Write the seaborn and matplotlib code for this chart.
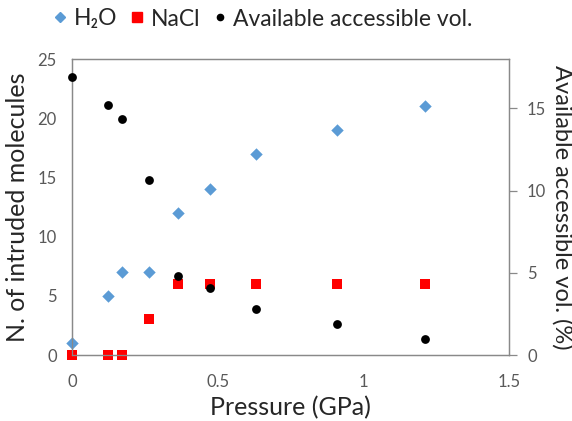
import matplotlib
matplotlib.use("Agg")
import matplotlib.pyplot as plt
import seaborn as sns
import pandas as pd
from matplotlib.lines import Line2D

pressure = [0.0, 0.125, 0.17, 0.265, 0.365, 0.475, 0.63, 0.91, 1.21]
h2o = [1, 5, 7, 7, 12, 14, 17, 19, 21]
nacl = [0, 0, 0, 3, 6, 6, 6, 6, 6]
acc_vol = [16.9, 15.2, 14.35, 10.65, 4.8, 4.05, 2.8, 1.9, 1.0]

df = pd.DataFrame({"p": pressure, "h2o": h2o, "nacl": nacl, "vol": acc_vol})

sns.set_theme(style="white")
plt.rcParams['font.family'] = ['Lato', 'DejaVu Sans']

fig = plt.figure(figsize=(5.72, 4.21), dpi=100)
ax = fig.add_axes([72/572, 1-355/421, (509-72)/572, (355-59)/421])
ax2 = ax.twinx()

blue = "#5B9BD5"
red = "#FF0000"
sns.scatterplot(data=df, x="p", y="h2o", ax=ax, marker="D", s=40, color=blue,
                edgecolor=blue, linewidth=0, zorder=3, clip_on=False)
sns.scatterplot(data=df, x="p", y="nacl", ax=ax, marker="s", s=62, color=red,
                edgecolor=red, linewidth=0, zorder=4, clip_on=False)
sns.scatterplot(data=df, x="p", y="vol", ax=ax2, marker="o", s=40, color="black",
                edgecolor="black", linewidth=0, zorder=5, clip_on=False)

ax.set_xlim(0, 1.5)
ax.set_ylim(0, 25)
ax2.set_ylim(0, 18)
ax.set_xticks([0, 0.5, 1, 1.5])
ax.set_xticklabels(["0", "0.5", "1", "1.5"])
ax.set_yticks([0, 5, 10, 15, 20, 25])
ax2.set_yticks([0, 5, 10, 15])

spine_c = "#898989"
tick_c = "#595959"
for a in (ax, ax2):
    for s in a.spines.values():
        s.set_color(spine_c)
        s.set_linewidth(0.9)
    a.tick_params(colors=tick_c, labelsize=12, length=0)
ax.tick_params(axis="x", length=6, width=0.9, color=spine_c, direction="out", pad=8)
ax2.tick_params(axis="y", length=6, width=0.9, color=spine_c, direction="out", right=True, pad=7)
ax.tick_params(axis="y", pad=11)

ax.set_xlabel("Pressure (GPa)", fontsize=18, color="#262626", labelpad=4)
ax.set_ylabel("N. of intruded molecules", fontsize=18, color="#262626", labelpad=6)
ax2.set_ylabel("Available accessible vol. (%)", fontsize=17, color="#262626",
               rotation=270, va="center", ha="center")
ax2.yaxis.set_label_coords((562 - 72) / 437, 0.5)

handles = [
    Line2D([], [], marker="D", color=blue, linestyle="none", markersize=5),
    Line2D([], [], marker="s", color=red, linestyle="none", markersize=7),
    Line2D([], [], marker="o", color="black", linestyle="none", markersize=4.5),
]
labels = ["H₂O", "NaCl", "Available accessible vol."]
fig.legend(handles, labels, loc="center", bbox_to_anchor=(0.458, 1-19/421), ncol=3,
           frameon=False, fontsize=16.5, handletextpad=0.2, columnspacing=0.45,
           handlelength=0.8)

fig.savefig("out.png", dpi=100)
